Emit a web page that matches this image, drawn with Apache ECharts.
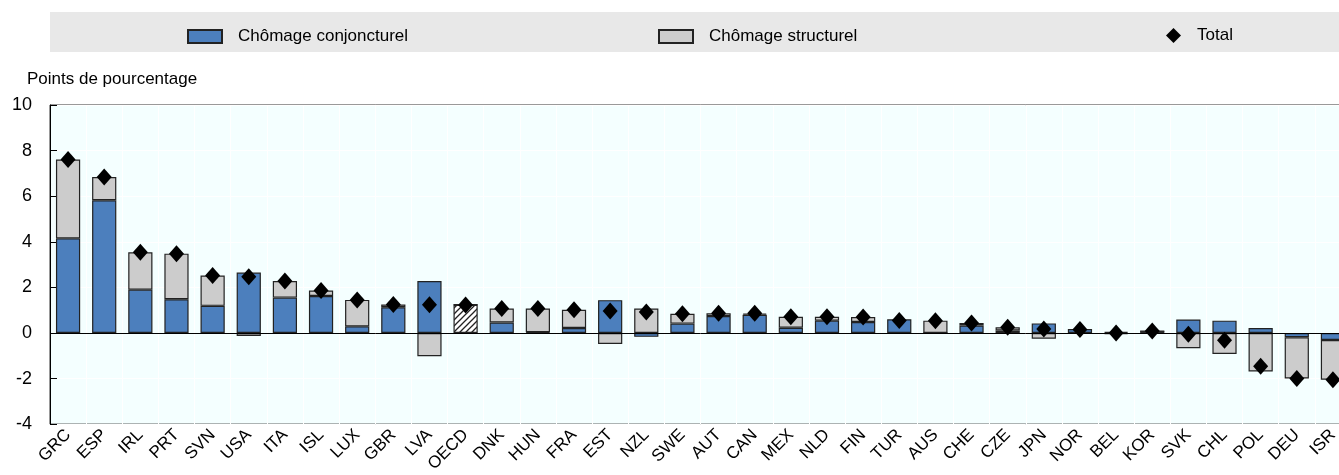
<!DOCTYPE html>
<html>
<head>
<meta charset="utf-8">
<script src="https://cdn.jsdelivr.net/npm/echarts@6/dist/echarts.min.js"></script>
<style>
  html, body { margin: 0; padding: 0; background: #fff; overflow: hidden; }
  #chart { width: 1351px; height: 475px; }
</style>
</head>
<body>
<div id="chart"></div>
<script>
// valeurs
var countries = ['GRC','ESP','IRL','PRT','SVN','USA','ITA','ISL','LUX','GBR','LVA','OECD','DNK','HUN','FRA','EST','NZL','SWE','AUT','CAN','MEX','NLD','FIN','TUR','AUS','CHE','CZE','JPN','NOR','BEL','KOR','SVK','CHL','POL','DEU','ISR'];
var cyclical = [4.15,5.82,1.90,1.48,1.19,2.65,1.55,1.62,0.29,1.13,2.28,1.24,0.46,0.03,0.22,1.44,-0.17,0.41,0.74,0.80,0.23,0.54,0.48,0.60,0,0.33,0.11,0.42,0.17,0.05,0.08,0.59,0.54,0.22,-0.19,-0.31];
var structural = [3.46,1.02,1.64,2.00,1.33,-0.13,0.73,0.24,1.16,0.12,-1.02,0,0.61,1.04,0.80,-0.48,1.07,0.43,0.12,0.05,0.48,0.17,0.22,-0.04,0.54,0.11,0.14,-0.25,-0.02,-0.05,0,-0.67,-0.92,-1.69,-1.81,-1.74];
var total = [7.61,6.84,3.54,3.48,2.52,2.47,2.28,1.86,1.45,1.25,1.24,1.23,1.07,1.07,1.02,0.96,0.92,0.84,0.86,0.86,0.71,0.71,0.70,0.55,0.54,0.44,0.25,0.17,0.15,0.00,0.09,-0.06,-0.32,-1.46,-2.00,-2.05];
var yTicks = { min: -4, max: 10, interval: 2 };

// motif hachuré pour la moyenne OCDE
function hatch() {
    var c = document.createElement('canvas');
    c.width = 6; c.height = 6;
    var ctx = c.getContext('2d');
    ctx.fillStyle = '#fff';
    ctx.fillRect(0, 0, 6, 6);
    ctx.strokeStyle = '#222';
    ctx.lineWidth = 1.3;
    ctx.beginPath();
    ctx.moveTo(0, 6); ctx.lineTo(6, 0);
    ctx.moveTo(-3, 3); ctx.lineTo(3, -3);
    ctx.moveTo(3, 9); ctx.lineTo(9, 3);
    ctx.stroke();
    return c;
}

var blue = '#4C7FBD';
var grey = '#CCCCCC';
var font = 'Liberation Sans, Arial, sans-serif';

var cyclicalData = cyclical.map(function (v, i) {
    if (countries[i] === 'OECD') {
        return { value: v, itemStyle: { color: { image: hatch(), repeat: 'repeat' } } };
    }
    return v;
});

var chart = echarts.init(document.getElementById('chart'));
var legendText = { fontFamily: font, fontSize: 17, color: '#000', padding: [0, 0, 0, 11] };
var legendBase = {
    top: 28,
    padding: 0,
    itemHeight: 13,
    itemWidth: 34,
    textStyle: legendText,
    selectedMode: false
};
chart.setOption({
    animation: false,
    textStyle: { fontFamily: font },
    graphic: [
        { type: 'rect', left: 50, top: 12, shape: { width: 1301, height: 40 }, style: { fill: '#E8E8E8' }, z: -1 },
        { type: 'text', left: 27, top: 71, style: { text: 'Points de pourcentage', fontSize: 17, fontFamily: font, fill: '#000' } }
    ],
    legend: [
        Object.assign({}, legendBase, { left: 187, data: [{ name: 'Chômage conjoncturel', icon: 'rect' }] }),
        Object.assign({}, legendBase, { left: 658, data: [{ name: 'Chômage structurel', icon: 'rect' }] }),
        Object.assign({}, legendBase, { left: 1166, top: 27, itemWidth: 15, itemHeight: 15, data: [{ name: 'Total', icon: 'diamond' }] })
    ],
    grid: {
        left: 50, right: 0, top: 105, bottom: 50,
        show: true, backgroundColor: '#F4FFFF', borderColor: '#333', borderWidth: 1
    },
    xAxis: {
        type: 'category',
        data: countries,
        axisLine: { show: false },
        axisTick: { show: false },
        splitLine: { show: true, lineStyle: { color: '#FFFFFF', width: 1 } },
        axisLabel: { rotate: 45, fontSize: 17, color: '#000', margin: 8, interval: 0 }
    },
    yAxis: {
        type: 'value',
        min: yTicks.min, max: yTicks.max, interval: yTicks.interval,
        axisLine: { show: true, lineStyle: { color: '#000' } },
        axisTick: { show: true, inside: true, length: 7, lineStyle: { color: '#000' } },
        splitLine: { show: true, lineStyle: { color: '#FFFFFF' } },
        axisLabel: { fontSize: 18, color: '#000', margin: 18 }
    },
    series: [
        {
            name: 'Chômage conjoncturel', type: 'bar', stack: 'u', barWidth: '67%',
            data: cyclicalData,
            itemStyle: { color: blue, borderColor: '#222', borderWidth: 1.2 },
            markLine: {
                silent: true, symbol: 'none', label: { show: false },
                lineStyle: { color: '#000', width: 1, type: 'solid' },
                data: [{ yAxis: 0 }]
            }
        },
        {
            name: 'Chômage structurel', type: 'bar', stack: 'u',
            data: structural,
            itemStyle: { color: grey, borderColor: '#222', borderWidth: 1.2 }
        },
        {
            name: 'Total', type: 'scatter', symbol: 'diamond', symbolSize: [15, 17],
            data: total,
            itemStyle: { color: '#000', opacity: 1 },
            z: 5
        }
    ]
});
</script>
</body>
</html>
